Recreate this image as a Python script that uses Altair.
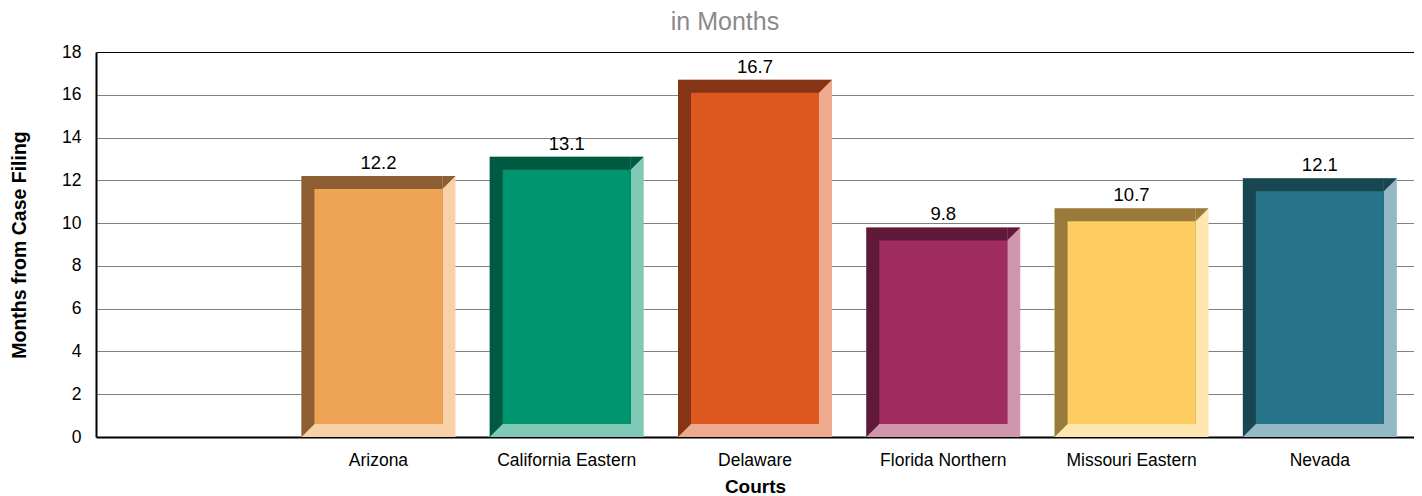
import altair as alt
import pandas as pd

courts = ["Arizona", "California Eastern", "Delaware", "Florida Northern", "Missouri Eastern", "Nevada"]
months = [12.2, 13.1, 16.7, 9.8, 10.7, 12.1]
face_colors = ["#EFA354", "#00946F", "#DC5820", "#A12C5F", "#FDCD61", "#27738A"]
dark_colors = ["#8C5E31", "#005A42", "#853415", "#5F1A39", "#9A7A3A", "#184751"]
light_colors = ["#F8D1A6", "#7FC9B6", "#EEAA8E", "#D096AE", "#FEE6AF", "#93B9C4"]
domain = [" "] + courts
y_ticks = [0, 2, 4, 6, 8, 10, 12, 14, 16, 18]

df = pd.DataFrame({
    "court": courts, "months": months,
    "face": face_colors, "dark": dark_colors, "light": light_colors,
})

FONT = "Liberation Sans"
W, H = 1318, 385
BW, BV = 154, 13  # bar width, bevel width (px)

x_enc = alt.X(
    "court:N",
    scale=alt.Scale(domain=domain, paddingInner=0, paddingOuter=0),
    sort=domain,
    axis=alt.Axis(
        title="Courts", labelAngle=0, labelFontSize=17.5, labelColor="black", labelFont=FONT,
        ticks=False, labelPadding=14, domainColor="black", domainWidth=2,
        titleFontSize=19, titleFontWeight="bold", titleFont=FONT, titleColor="black",
        titlePadding=9,
    ),
)
y_scale = alt.Scale(domain=[0, 18], nice=False)
y_axis = alt.Axis(
    title="Months from Case Filing", values=y_ticks, labelFontSize=17.5, labelColor="black",
    labelFont=FONT, ticks=False, labelPadding=15, domainColor="black", domainWidth=2,
    grid=True,
    gridColor={"condition": {"test": "datum.value === 18", "value": "black"}, "value": "#808080"},
    gridWidth=1.2,
    titleFontSize=19.5, titleFontWeight="bold", titleFont=FONT, titleColor="black",
    titlePadding=32,
)

base = alt.Chart(df)

light = base.mark_bar(width=BW).encode(
    x=x_enc, y=alt.Y("months:Q", scale=y_scale, axis=y_axis), y2=alt.datum(0),
    color=alt.Color("light:N", scale=None),
)
dark = base.mark_bar(width=BW - BV, xOffset=-BV / 2, y2Offset=-BV).encode(
    x="court:N", y="months:Q", y2=alt.datum(0), color=alt.Color("dark:N", scale=None),
)
tri = "M-1,-1L1,-1L-1,1Z"
tri_top = base.mark_point(shape=tri, size=BV * BV, filled=True, opacity=1, strokeWidth=0,
                          xOffset=BW / 2 - BV / 2, yOffset=BV / 2).encode(
    x="court:N", y="months:Q", color=alt.Color("dark:N", scale=None),
)
tri_bot = base.mark_point(shape=tri, size=BV * BV, filled=True, opacity=1, strokeWidth=0,
                          xOffset=-(BW / 2 - BV / 2), yOffset=-BV / 2).encode(
    x="court:N", y=alt.datum(0), color=alt.Color("dark:N", scale=None),
)
face = base.mark_bar(width=BW - 2 * BV, yOffset=BV, y2Offset=-BV).encode(
    x="court:N", y="months:Q", y2=alt.datum(0), color=alt.Color("face:N", scale=None),
)
labels = base.mark_text(fontSize=18.5, font=FONT, color="black", baseline="alphabetic", dy=-7).encode(
    x="court:N", y="months:Q", text=alt.Text("months:Q", format=".1f"),
)

chart = alt.layer(light, dark, tri_top, tri_bot, face, labels).properties(
    width=W, height=H,
    title=alt.TitleParams("in Months", fontSize=25, color="#8a8a8a", font=FONT,
                          fontWeight="normal", anchor="middle", dx=-30, offset=8),
    autosize=alt.AutoSizeParams(type="none"),
    padding={"left": 88, "top": 44, "right": 0, "bottom": 59},
).configure_view(stroke=None)

chart.save("out.html", embed_options={"renderer": "svg", "actions": False})
